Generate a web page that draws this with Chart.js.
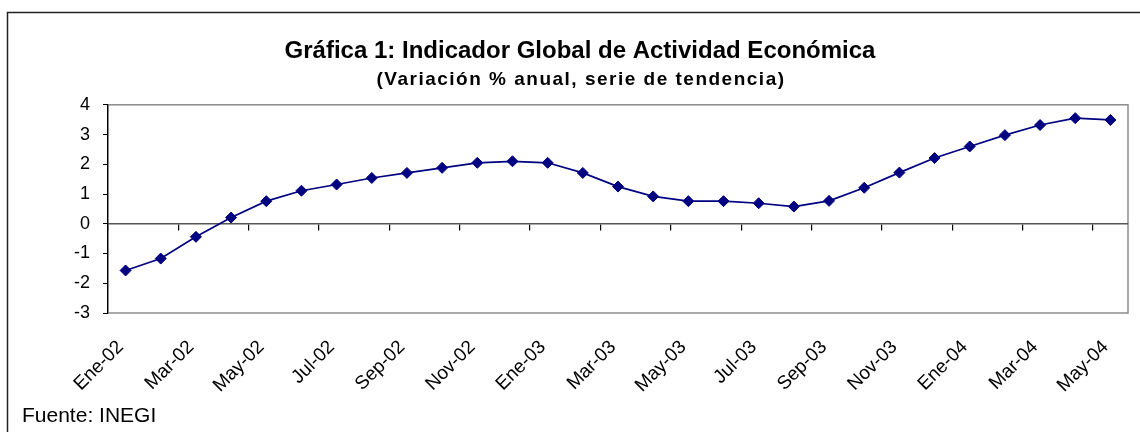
<!DOCTYPE html>
<html>
<head>
<meta charset="utf-8">
<script src="https://cdn.jsdelivr.net/npm/chart.js@4/dist/chart.umd.min.js"></script>
<style>
  html, body { margin: 0; padding: 0; background: #fff; overflow: hidden; }
  #wrap { width: 1140px; height: 432px; }
</style>
</head>
<body>
<div id="wrap"><canvas id="c" width="1140" height="432"></canvas></div>
<script>
const categories = ["Ene-02","Feb-02","Mar-02","Abr-02","May-02","Jun-02","Jul-02","Ago-02","Sep-02","Oct-02","Nov-02","Dic-02",
                    "Ene-03","Feb-03","Mar-03","Abr-03","May-03","Jun-03","Jul-03","Ago-03","Sep-03","Oct-03","Nov-03","Dic-03",
                    "Ene-04","Feb-04","Mar-04","Abr-04","May-04"];
const igaeValues = [-1.57, -1.17, -0.44, 0.21, 0.76, 1.11, 1.32, 1.54, 1.71, 1.88, 2.05, 2.10,
                    2.05, 1.71, 1.25, 0.92, 0.76, 0.76, 0.69, 0.58, 0.77, 1.21, 1.72, 2.21,
                    2.60, 2.98, 3.32, 3.55, 3.49];
const yTicks = [-3, -2, -1, 0, 1, 2, 3, 4];
const titleText = "Gráfica 1: Indicador Global de Actividad Económica";
const subtitleText = "(Variación % anual, serie de tendencia)";
const sourceText = "Fuente: INEGI";

const FONT = "'Liberation Sans', Arial, sans-serif";

const framePlugin = {
  id: 'frame',
  beforeDraw(chart) {
    const ctx = chart.ctx, a = chart.chartArea;
    ctx.save();
    ctx.fillStyle = '#fff';
    ctx.fillRect(0, 0, chart.width, chart.height);
    ctx.strokeStyle = '#222';
    ctx.lineWidth = 1.5;
    ctx.beginPath();
    ctx.moveTo(7.5, chart.height + 5);
    ctx.lineTo(7.5, 12.5);
    ctx.lineTo(chart.width + 5, 12.5);
    ctx.stroke();
    ctx.strokeStyle = '#8c8c8c';
    ctx.lineWidth = 1.5;
    ctx.strokeRect(a.left, a.top, a.right - a.left, a.bottom - a.top);
    ctx.restore();
  },
  afterDraw(chart) {
    const ctx = chart.ctx;
    ctx.save();
    ctx.fillStyle = '#000';
    ctx.font = "bold 19px " + FONT;
    ctx.letterSpacing = '1.5px';
    ctx.textBaseline = 'middle';
    ctx.textAlign = 'center';
    ctx.fillText(subtitleText, 581, 80);
    ctx.letterSpacing = '0px';
    ctx.font = "21px " + FONT;
    ctx.textBaseline = 'alphabetic';
    ctx.textAlign = 'left';
    ctx.fillText(sourceText, 22, 422);
    ctx.restore();
  }
};

new Chart(document.getElementById('c'), {
  type: 'line',
  data: {
    labels: categories,
    datasets: [{
      data: igaeValues,
      xAxisID: 'x',
      yAxisID: 'y',
      borderColor: '#000080',
      backgroundColor: '#000080',
      borderWidth: 1.7,
      pointStyle: 'rectRot',
      pointRadius: 5.5,
      pointBorderWidth: 1,
      pointBorderColor: '#000080',
      pointBackgroundColor: '#000080',
      tension: 0,
      fill: false
    }]
  },
  options: {
    responsive: false,
    animation: false,
    layout: { padding: { left: 32, right: 12, top: 0, bottom: 0 } },
    plugins: {
      legend: { display: false },
      tooltip: { enabled: false },
      title: {
        display: true,
        text: titleText,
        color: '#000',
        font: { family: FONT, size: 24, weight: 'bold', lineHeight: 1.2 },
        padding: { top: 37, bottom: 39 }
      },
      subtitle: { display: false }
    },
    scales: {
      x: {
        type: 'category',
        position: 'bottom',
        offset: true,
        grid: { display: false, drawTicks: false },
        border: { display: false },
        afterFit(s) { s.height = 119; s.paddingLeft = 0; s.paddingRight = 0; },
        ticks: {
          autoSkip: false,
          maxRotation: 45,
          minRotation: 45,
          padding: 23,
          labelOffset: -5,
          color: '#000',
          font: { family: FONT, size: 19 },
          callback(v, i) { return i % 2 === 0 ? categories[i] : ''; }
        }
      },
      x2: {
        type: 'category',
        labels: categories,
        position: { y: 0 },
        offset: true,
        afterFit(s) { s.height = 0; s.paddingLeft = 0; s.paddingRight = 0; },
        grid: {
          offset: true,
          drawOnChartArea: false,
          drawTicks: true,
          tickLength: 6,
          lineWidth: 1.2,
          color(ctx) { return (ctx.index !== undefined && ctx.index % 2 === 0) ? '#000' : 'rgba(0,0,0,0)'; }
        },
        border: { display: true, color: '#555', width: 1.5 },
        ticks: { display: false, autoSkip: false }
      },
      y: {
        type: 'linear',
        position: 'left',
        min: -3,
        max: 4,
        afterFit(s) { s.width = 76; },
        afterBuildTicks(s) { s.ticks = yTicks.map(v => ({ value: v })); },
        grid: { drawOnChartArea: false, drawTicks: true, tickLength: 5, color: '#000', lineWidth: 1 },
        border: { display: true, color: '#000', width: 1.2 },
        ticks: {
          color: '#000',
          padding: 13,
          font: { family: FONT, size: 18 },
          callback(v) { return String(v); }
        }
      }
    }
  },
  plugins: [framePlugin]
});
</script>
</body>
</html>
